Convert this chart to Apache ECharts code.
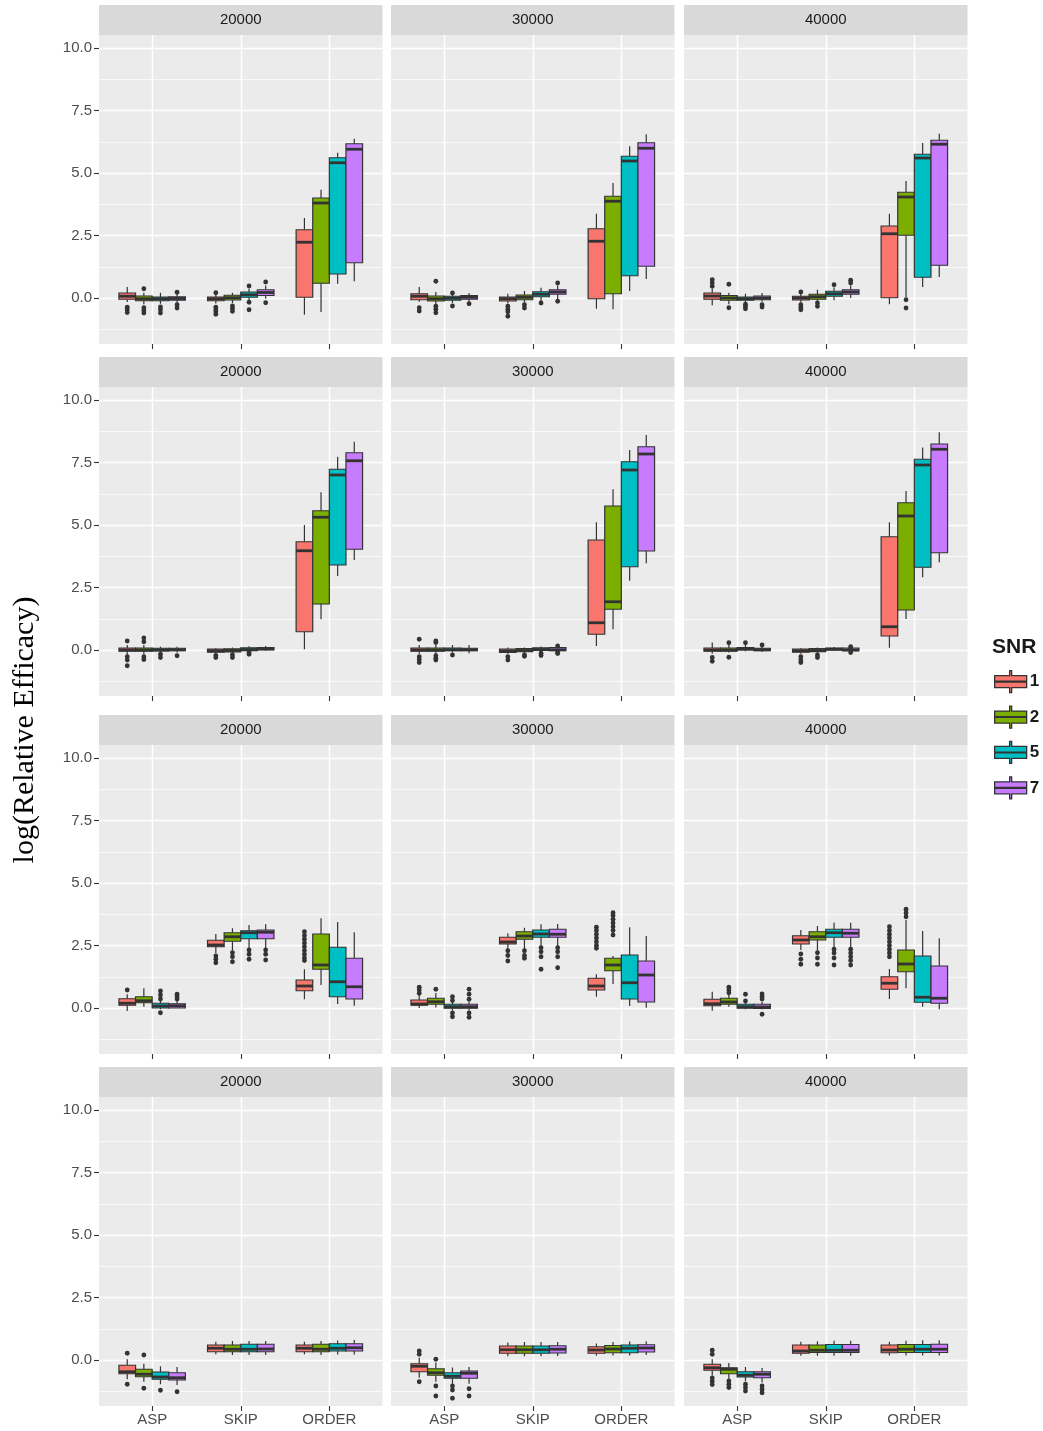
<!DOCTYPE html>
<html><head><meta charset="utf-8">
<script src="https://cdn.jsdelivr.net/npm/echarts@6/dist/echarts.min.js"></script>
<style>html,body{margin:0;padding:0;background:#fff}#chart{width:1043px;height:1431px}</style>
</head><body><div id="chart"></div>
<script>
const categories = ['ASP', 'SKIP', 'ORDER'];
const snrLevels = ['1', '2', '5', '7'];
const sampleSizes = ['20000', '30000', '40000'];
const yTicks = [0, 2.5, 5, 7.5, 10];
const yMinorTicks = [-1.25, 1.25, 3.75, 6.25, 8.75];
const xTicks = [1, 2, 3];
const snrColors = ['#F8766D', '#7CAE00', '#00BFC4', '#C77CFF'];

// [category, SNR, lower whisker, Q1, median, Q3, upper whisker, outliers]
const r1c1 = [
  ['ASP','1',-0.16,-0.05,0.07,0.20,0.44,[-0.37,-0.47,-0.58]],
  ['ASP','2',-0.25,-0.11,-0.03,0.08,0.21,[0.37,-0.39,-0.50,-0.60]],
  ['ASP','5',-0.23,-0.11,-0.03,0.04,0.21,[-0.36,-0.47,-0.60]],
  ['ASP','7',-0.18,-0.09,-0.02,0.05,0.16,[0.23,-0.27,-0.40]],
  ['SKIP','1',-0.22,-0.11,-0.03,0.04,0.15,[0.21,-0.37,-0.47,-0.55,-0.65]],
  ['SKIP','2',-0.20,-0.08,0.01,0.11,0.21,[-0.32,-0.42,-0.53]],
  ['SKIP','5',-0.09,0.03,0.13,0.24,0.37,[0.48,-0.17,-0.47]],
  ['SKIP','7',-0.03,0.10,0.22,0.33,0.50,[0.64,-0.19]],
  ['ORDER','1',-0.67,0.03,2.23,2.73,3.20,[]],
  ['ORDER','2',-0.56,0.59,3.80,4.00,4.33,[]],
  ['ORDER','5',0.57,0.96,5.41,5.61,5.81,[]],
  ['ORDER','7',0.67,1.41,5.95,6.17,6.37,[]]
];
const r1c2 = [
  ['ASP','1',-0.15,-0.07,0.07,0.17,0.44,[-0.39,-0.52]],
  ['ASP','2',-0.25,-0.12,-0.03,0.08,0.24,[0.67,-0.33,-0.45,-0.59]],
  ['ASP','5',-0.20,-0.09,-0.01,0.07,0.15,[0.20,-0.32]],
  ['ASP','7',-0.15,-0.05,0.03,0.10,0.20,[-0.23]],
  ['SKIP','1',-0.22,-0.12,-0.03,0.04,0.17,[-0.33,-0.45,-0.55,-0.73]],
  ['SKIP','2',-0.18,-0.07,0.03,0.12,0.28,[-0.27,-0.40]],
  ['SKIP','5',-0.12,0.05,0.15,0.25,0.41,[-0.20]],
  ['SKIP','7',-0.05,0.15,0.24,0.33,0.50,[0.60,-0.13]],
  ['ORDER','1',-0.43,-0.03,2.27,2.77,3.37,[]],
  ['ORDER','2',-0.45,0.17,3.87,4.07,4.60,[]],
  ['ORDER','5',0.28,0.89,5.48,5.67,6.07,[]],
  ['ORDER','7',0.76,1.27,5.99,6.21,6.55,[]]
];
const r1c3 = [
  ['ASP','1',-0.29,-0.05,0.08,0.20,0.37,[0.47,0.60,0.73]],
  ['ASP','2',-0.25,-0.09,0.00,0.10,0.21,[0.55,-0.39]],
  ['ASP','5',-0.18,-0.09,-0.03,0.04,0.17,[-0.25,-0.33,-0.43]],
  ['ASP','7',-0.15,-0.07,0.00,0.08,0.20,[-0.27,-0.36]],
  ['SKIP','1',-0.18,-0.08,0.00,0.07,0.17,[0.24,-0.27,-0.37,-0.47]],
  ['SKIP','2',-0.12,-0.05,0.05,0.15,0.33,[-0.20,-0.33]],
  ['SKIP','5',-0.09,0.07,0.17,0.27,0.42,[0.53]],
  ['SKIP','7',0.00,0.15,0.24,0.33,0.50,[0.60,0.71]],
  ['ORDER','1',-0.25,0.01,2.57,2.88,3.37,[]],
  ['ORDER','2',0.04,2.51,4.04,4.23,4.68,[-0.07,-0.40]],
  ['ORDER','5',0.44,0.83,5.60,5.75,6.20,[]],
  ['ORDER','7',0.84,1.31,6.15,6.31,6.57,[]]
];
const r2c1 = [
  ['ASP','1',-0.20,-0.05,0.00,0.08,0.20,[0.36,-0.27,-0.40,-0.63]],
  ['ASP','2',-0.17,-0.05,0.00,0.08,0.20,[0.33,0.48,-0.27,-0.38]],
  ['ASP','5',-0.12,-0.04,0.00,0.07,0.13,[-0.17,-0.30]],
  ['ASP','7',-0.10,-0.03,0.01,0.07,0.13,[-0.23]],
  ['SKIP','1',-0.15,-0.09,-0.03,0.04,0.07,[-0.22,-0.30]],
  ['SKIP','2',-0.14,-0.08,-0.02,0.05,0.10,[-0.19,-0.30]],
  ['SKIP','5',-0.05,-0.03,0.02,0.09,0.15,[-0.09,-0.17]],
  ['SKIP','7',-0.03,0.00,0.05,0.10,0.16,[]],
  ['ORDER','1',0.03,0.73,3.97,4.33,5.00,[]],
  ['ORDER','2',1.23,1.84,5.31,5.57,6.31,[]],
  ['ORDER','5',2.96,3.40,7.00,7.23,7.73,[]],
  ['ORDER','7',3.60,4.03,7.57,7.89,8.33,[]]
];
const r2c2 = [
  ['ASP','1',-0.15,-0.05,0.00,0.08,0.20,[0.43,-0.27,-0.38,-0.50]],
  ['ASP','2',-0.15,-0.05,0.00,0.08,0.20,[0.36,0.30,-0.23,-0.33,-0.40]],
  ['ASP','5',-0.10,-0.03,0.01,0.08,0.20,[-0.20]],
  ['ASP','7',-0.13,-0.03,0.01,0.07,0.20,[]],
  ['SKIP','1',-0.15,-0.10,-0.04,0.04,0.10,[-0.27,-0.40]],
  ['SKIP','2',-0.13,-0.07,-0.02,0.06,0.10,[-0.20,-0.25]],
  ['SKIP','5',-0.08,-0.02,0.02,0.09,0.14,[-0.13,-0.22]],
  ['SKIP','7',-0.10,-0.03,0.01,0.10,0.15,[0.16,-0.10,-0.14]],
  ['ORDER','1',0.16,0.63,1.09,4.40,5.11,[]],
  ['ORDER','2',0.83,1.63,1.93,5.76,6.43,[]],
  ['ORDER','5',2.77,3.33,7.20,7.53,8.00,[]],
  ['ORDER','7',3.47,3.96,7.84,8.13,8.60,[]]
];
const r2c3 = [
  ['ASP','1',-0.15,-0.05,0.00,0.08,0.30,[-0.30,-0.45]],
  ['ASP','2',-0.10,-0.05,0.00,0.08,0.20,[0.29,-0.29]],
  ['ASP','5',-0.05,0.00,0.04,0.10,0.20,[0.29]],
  ['ASP','7',-0.08,-0.03,0.01,0.07,0.15,[0.20]],
  ['SKIP','1',-0.15,-0.09,-0.03,0.04,0.07,[-0.27,-0.40,-0.50]],
  ['SKIP','2',-0.13,-0.07,-0.02,0.06,0.10,[-0.20,-0.30]],
  ['SKIP','5',-0.03,0.00,0.03,0.08,0.12,[]],
  ['SKIP','7',-0.06,-0.03,0.00,0.08,0.11,[0.13,0.05,-0.10]],
  ['ORDER','1',0.09,0.56,0.93,4.53,5.11,[]],
  ['ORDER','2',1.24,1.60,5.36,5.89,6.36,[]],
  ['ORDER','5',2.91,3.31,7.40,7.63,8.10,[]],
  ['ORDER','7',3.51,3.89,8.03,8.24,8.71,[]]
];
const r3c1 = [
  ['ASP','1',-0.12,0.11,0.19,0.37,0.55,[0.72]],
  ['ASP','2',0.05,0.21,0.29,0.45,0.79,[]],
  ['ASP','5',-0.05,0.00,0.08,0.19,0.28,[0.68,0.52,0.36,-0.19]],
  ['ASP','7',0.00,0.00,0.09,0.17,0.28,[0.55,0.45,0.36]],
  ['SKIP','1',2.19,2.45,2.52,2.71,2.96,[2.08,1.95,1.81]],
  ['SKIP','2',2.29,2.67,2.85,3.01,3.19,[2.21,2.05,1.85]],
  ['SKIP','5',2.39,2.77,3.01,3.09,3.32,[2.32,2.15,1.95]],
  ['SKIP','7',2.39,2.77,3.03,3.12,3.35,[2.32,2.15,1.92]],
  ['ORDER','1',0.35,0.69,0.88,1.12,1.55,[3.05,2.90,2.75,2.60,2.45,2.30,2.15,2.00,1.90]],
  ['ORDER','2',0.92,1.55,1.72,2.96,3.59,[]],
  ['ORDER','5',0.16,0.45,1.05,2.43,3.44,[]],
  ['ORDER','7',0.09,0.36,0.85,1.99,3.03,[]]
];
const r3c2 = [
  ['ASP','1',0.00,0.11,0.16,0.32,0.52,[0.83,0.72,0.59]],
  ['ASP','2',0.02,0.15,0.25,0.39,0.60,[0.75]],
  ['ASP','5',-0.10,-0.01,0.05,0.15,0.25,[0.45,0.30,-0.20,-0.35]],
  ['ASP','7',-0.10,-0.01,0.05,0.15,0.25,[0.75,0.55,0.35,-0.20,-0.37]],
  ['SKIP','1',2.32,2.56,2.64,2.83,2.99,[2.29,2.10,1.88]],
  ['SKIP','2',2.35,2.75,2.88,3.05,3.21,[2.29,2.10,1.99]],
  ['SKIP','5',2.45,2.83,2.96,3.12,3.35,[2.41,2.25,2.05,1.55]],
  ['SKIP','7',2.45,2.83,2.95,3.15,3.36,[2.41,2.25,2.05,1.61]],
  ['ORDER','1',0.45,0.72,0.88,1.19,1.35,[3.23,3.10,2.95,2.80,2.65,2.50,2.39]],
  ['ORDER','2',0.96,1.49,1.72,1.99,2.08,[3.81,3.70,3.55,3.40,3.25,3.10,2.92]],
  ['ORDER','5',0.08,0.36,1.01,2.12,3.23,[]],
  ['ORDER','7',0.01,0.24,1.32,1.88,2.88,[]]
];
const r3c3 = [
  ['ASP','1',-0.11,0.09,0.17,0.35,0.65,[]],
  ['ASP','2',0.05,0.15,0.24,0.39,0.55,[0.83,0.72,0.61]],
  ['ASP','5',-0.05,-0.01,0.05,0.15,0.25,[0.55,0.28]],
  ['ASP','7',-0.05,-0.02,0.04,0.15,0.25,[0.56,0.46,0.36,-0.25]],
  ['SKIP','1',2.32,2.56,2.72,2.89,3.12,[2.16,1.95,1.75]],
  ['SKIP','2',2.29,2.72,2.85,3.05,3.28,[2.21,2.00,1.75]],
  ['SKIP','5',2.41,2.83,3.01,3.15,3.41,[2.35,2.20,2.00,1.72]],
  ['SKIP','7',2.43,2.83,2.99,3.15,3.41,[2.35,2.20,2.05,1.90,1.72]],
  ['ORDER','1',0.36,0.75,0.99,1.25,1.56,[3.25,3.10,2.95,2.80,2.65,2.50,2.35,2.20,2.05]],
  ['ORDER','2',0.79,1.45,1.76,2.32,3.52,[3.65,3.80,3.95]],
  ['ORDER','5',0.05,0.23,0.43,2.08,3.08,[]],
  ['ORDER','7',-0.05,0.19,0.39,1.68,2.79,[]]
];
const r4c1 = [
  ['ASP','1',-0.77,-0.55,-0.47,-0.21,0.03,[0.27,-0.97]],
  ['ASP','2',-0.87,-0.67,-0.57,-0.37,-0.15,[0.20,-1.13]],
  ['ASP','5',-0.97,-0.77,-0.68,-0.48,-0.25,[-1.21]],
  ['ASP','7',-1.00,-0.80,-0.71,-0.51,-0.28,[-1.27]],
  ['SKIP','1',0.23,0.33,0.47,0.60,0.73,[]],
  ['SKIP','2',0.20,0.33,0.43,0.60,0.76,[]],
  ['SKIP','5',0.20,0.33,0.43,0.63,0.76,[]],
  ['SKIP','7',0.20,0.33,0.44,0.63,0.76,[]],
  ['ORDER','1',0.23,0.33,0.47,0.60,0.73,[]],
  ['ORDER','2',0.20,0.33,0.43,0.63,0.76,[]],
  ['ORDER','5',0.22,0.36,0.47,0.65,0.78,[]],
  ['ORDER','7',0.22,0.36,0.49,0.65,0.80,[]]
];
const r4c2 = [
  ['ASP','1',-0.71,-0.47,-0.25,-0.15,0.09,[0.36,0.23,-0.87]],
  ['ASP','2',-0.87,-0.61,-0.51,-0.35,-0.10,[0.03,-1.04,-1.44]],
  ['ASP','5',-0.95,-0.73,-0.65,-0.51,-0.30,[-1.04,-1.20,-1.53]],
  ['ASP','7',-0.95,-0.73,-0.53,-0.44,-0.28,[-1.15,-1.44]],
  ['SKIP','1',0.15,0.27,0.41,0.56,0.70,[]],
  ['SKIP','2',0.15,0.27,0.41,0.56,0.72,[]],
  ['SKIP','5',0.15,0.27,0.41,0.56,0.72,[]],
  ['SKIP','7',0.16,0.28,0.43,0.57,0.72,[]],
  ['ORDER','1',0.17,0.27,0.40,0.53,0.66,[]],
  ['ORDER','2',0.18,0.29,0.44,0.58,0.72,[]],
  ['ORDER','5',0.18,0.29,0.47,0.60,0.74,[]],
  ['ORDER','7',0.20,0.32,0.48,0.61,0.75,[]]
];
const r4c3 = [
  ['ASP','1',-0.62,-0.41,-0.31,-0.17,0.03,[0.39,0.23,-0.72,-0.85,-0.98]],
  ['ASP','2',-0.75,-0.55,-0.37,-0.31,-0.12,[-0.84,-0.97,-1.10]],
  ['ASP','5',-0.85,-0.68,-0.61,-0.47,-0.28,[-0.97,-1.10,-1.24]],
  ['ASP','7',-0.90,-0.71,-0.57,-0.47,-0.32,[-1.04,-1.17,-1.31]],
  ['SKIP','1',0.17,0.27,0.36,0.60,0.73,[]],
  ['SKIP','2',0.17,0.30,0.39,0.60,0.75,[]],
  ['SKIP','5',0.17,0.30,0.39,0.62,0.77,[]],
  ['SKIP','7',0.17,0.30,0.39,0.62,0.77,[]],
  ['ORDER','1',0.18,0.29,0.40,0.60,0.73,[]],
  ['ORDER','2',0.18,0.30,0.43,0.62,0.77,[]],
  ['ORDER','5',0.18,0.30,0.43,0.62,0.79,[]],
  ['ORDER','7',0.18,0.30,0.43,0.63,0.79,[]]
];

const panels = [[r1c1, r1c2, r1c3], [r2c1, r2c2, r2c3], [r3c1, r3c2, r3c3], [r4c1, r4c2, r4c3]];

// layout
const colLeft = [99, 391, 684];
const panelW = 283.5;
const rowTop = [35, 387, 745, 1097];
const panelH = 309;
const stripH = 30;
const yMin = -1.84, yMax = 10.52;
const dodgeW = 0.75 / snrLevels.length;
const FONT = '"Liberation Sans", Arial, Helvetica, sans-serif';

const chart = echarts.init(document.getElementById('chart'), null, { renderer: 'canvas' });

const grids = [], xAxes = [], yAxes = [], series = [], graphics = [];

function makeRender(s, outlierLists) {
  return function (params, api) {
    const xc = api.value(0) + (s - (snrLevels.length - 1) / 2) * dodgeW;
    const lo = api.value(1), q1 = api.value(2), md = api.value(3), q3 = api.value(4), hi = api.value(5);
    const hw = dodgeW / 2;
    const tl = api.coord([xc - hw, q3]);
    const br = api.coord([xc + hw, q1]);
    const pTop = api.coord([xc, hi]);
    const pBot = api.coord([xc, lo]);
    const mL = api.coord([xc - hw, md]);
    const mR = api.coord([xc + hw, md]);
    const ls = { stroke: '#333333', lineWidth: 1.2 };
    const children = [
      { type: 'line', shape: { x1: pTop[0], y1: pTop[1], x2: pTop[0], y2: tl[1] }, style: ls },
      { type: 'line', shape: { x1: pBot[0], y1: br[1], x2: pBot[0], y2: pBot[1] }, style: ls },
      { type: 'rect', shape: { x: tl[0], y: tl[1], width: br[0] - tl[0], height: br[1] - tl[1] },
        style: { fill: snrColors[s], stroke: '#333333', lineWidth: 1.2 } },
      { type: 'line', shape: { x1: mL[0], y1: mL[1], x2: mR[0], y2: mR[1] }, style: { stroke: '#333333', lineWidth: 2.8 } }
    ];
    (outlierLists[params.dataIndex] || []).forEach(v => {
      const p = api.coord([xc, v]);
      children.push({ type: 'circle', shape: { cx: p[0], cy: p[1], r: 2.4 }, style: { fill: '#333333' } });
    });
    return { type: 'group', children };
  };
}

panels.forEach((row, r) => {
  row.forEach((rows, c) => {
    const g = grids.length;
    grids.push({ left: colLeft[c], top: rowTop[r], width: panelW, height: panelH,
      show: true, backgroundColor: '#EBEBEB', borderWidth: 0, containLabel: false });
    xAxes.push({
      type: 'value', gridIndex: g, min: 0.4, max: 3.6, position: 'bottom',
      axisLine: { show: false, onZero: false },
      axisTick: { show: true, length: 5, customValues: xTicks, lineStyle: { color: '#333333', width: 1.1 } },
      axisLabel: { show: r === panels.length - 1, customValues: xTicks, margin: 6,
        formatter: v => categories[Math.round(v) - 1], color: '#4D4D4D', fontSize: 15, fontFamily: FONT },
      splitLine: { show: true, lineStyle: { color: '#FFFFFF', width: 1.4 } }
    });
    yAxes.push({
      type: 'value', gridIndex: g, min: yMin, max: yMax, position: 'left',
      axisLine: { show: false, onZero: false },
      axisTick: { show: c === 0, length: 5, customValues: yTicks, lineStyle: { color: '#333333', width: 1.1 } },
      axisLabel: { show: c === 0, customValues: yTicks, margin: 7, formatter: v => v.toFixed(1),
        color: '#4D4D4D', fontSize: 15, fontFamily: FONT },
      splitLine: { show: true, lineStyle: { color: '#FFFFFF', width: 1.4 } }
    });
    yAxes.push({
      type: 'value', gridIndex: g, min: yMin, max: yMax, position: 'left',
      axisLine: { show: false, onZero: false },
      axisTick: { show: false, customValues: yMinorTicks },
      axisLabel: { show: false, customValues: yMinorTicks },
      splitLine: { show: true, lineStyle: { color: '#FFFFFF', width: 0.7 } }
    });
    snrLevels.forEach((snr, s) => {
      const sub = rows.filter(d => d[1] === snr);
      series.push({
        type: 'custom', name: snr, coordinateSystem: 'cartesian2d',
        xAxisIndex: g, yAxisIndex: 2 * g, clip: true,
        itemStyle: { color: snrColors[s], borderColor: '#333333', borderWidth: 1.2 },
        encode: { x: 0, y: [1, 2, 3, 4, 5] },
        data: sub.map(d => [categories.indexOf(d[0]) + 1, d[2], d[3], d[4], d[5], d[6]]),
        renderItem: makeRender(s, sub.map(d => d[7]))
      });
    });
    graphics.push({ type: 'rect', shape: { x: colLeft[c], y: rowTop[r] - stripH, width: panelW, height: stripH },
      style: { fill: '#D9D9D9' }, silent: true });
    graphics.push({ type: 'text', x: colLeft[c] + panelW / 2, y: rowTop[r] - stripH / 2,
      style: { text: sampleSizes[c], fill: '#1A1A1A', font: '15px ' + FONT, textAlign: 'center', textVerticalAlign: 'middle' } });
  });
});

graphics.push({ type: 'text', x: 25, y: 730, rotation: Math.PI / 2,
  style: { text: 'log(Relative Efficacy)', fill: '#000000', font: '30px "Liberation Serif", "Times New Roman", serif',
    textAlign: 'center', textVerticalAlign: 'middle' } });

chart.setOption({
  animation: false,
  backgroundColor: '#FFFFFF',
  title: { text: 'SNR', left: 987, top: 632, textStyle: { fontSize: 21, fontWeight: 'bold', color: '#1A1A1A', fontFamily: FONT } },
  legend: {
    data: snrLevels, orient: 'vertical', left: 989, top: 665, itemWidth: 32, itemHeight: 22, itemGap: 12.1,
    selectedMode: false,
    icon: 'path://M15,0h2v5h15v12h-15v5h-2v-5h-15v-12h15z M0,10.6h32v0.8h-32z',
    itemStyle: { borderColor: '#333333', borderWidth: 1.3 },
    textStyle: { fontSize: 17, fontWeight: 'bold', color: '#1A1A1A', fontFamily: FONT, padding: [0, 0, 0, -2] }
  },
  grid: grids, xAxis: xAxes, yAxis: yAxes, series: series, graphic: graphics
});
</script></body></html>
